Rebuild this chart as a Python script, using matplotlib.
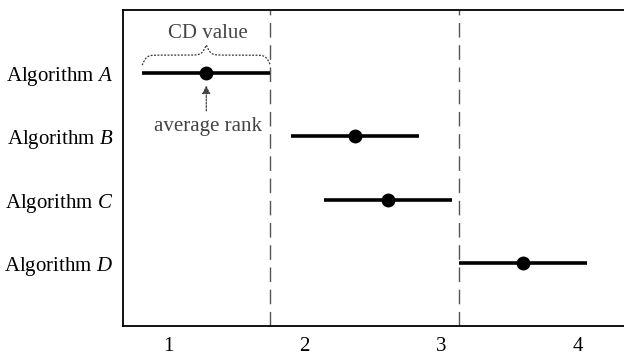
import numpy as np
import matplotlib
matplotlib.use("Agg")
import matplotlib.pyplot as plt

plt.rcParams["font.family"] = ["Liberation Serif", "DejaVu Serif"]
plt.rcParams["mathtext.fontset"] = "custom"
plt.rcParams["mathtext.rm"] = "Liberation Serif"
plt.rcParams["mathtext.it"] = "Liberation Serif:italic"

algorithms = ["Algorithm $A$", "Algorithm $B$", "Algorithm $C$", "Algorithm $D$"]
avg_ranks = [1.28, 2.37, 2.61, 3.60]
cd_value = 0.94
rank_ticks = [1, 2, 3, 4]

half = cd_value / 2
rows = np.arange(1, len(algorithms) + 1)

fig = plt.figure(figsize=(6.24, 3.55), dpi=100)
ax = fig.add_axes([123 / 624, 1 - 326 / 355, 1 - 123 / 624, 316 / 355])

# critical difference boundaries: best algorithm's upper end, worst one's lower end
ax.axvline(avg_ranks[0] + half, color="#555555", lw=1.0, dashes=(10.5, 5.5))
ax.axvline(avg_ranks[-1] - half, color="#555555", lw=1.0, dashes=(10.5, 5.5))

for y, r in zip(rows, avg_ranks):
    ax.plot([r - half, r + half], [y, y], color="black", lw=2.6, solid_capstyle="butt")
    ax.plot(r, y, "o", color="black", ms=9)

# curly brace over the first interval
x0, x1 = avg_ranks[0] - half, avg_ranks[0] + half
xs = np.linspace(x0, x1, 301)
hx = xs[:151]
beta = 60
yh = 1 / (1 + np.exp(-beta * (hx - hx[0]))) + 1 / (1 + np.exp(-beta * (hx - hx[-1])))
yb = np.concatenate([yh, yh[-2::-1]])
ax.plot(xs, 0.873 - (yb - 0.5) * 0.318, color="#333333", lw=0.9, ls=(0, (1.5, 1.2)))
ax.text(avg_ranks[0] + 0.01, 0.37, "CD value", ha="center", va="center",
        fontsize=15, color="#444444")

ax.annotate("", xy=(avg_ranks[0], 1.15), xytext=(avg_ranks[0], 1.64),
            arrowprops=dict(arrowstyle="-|>", color="#444444", lw=0.9,
                            ls=(0, (1.5, 1.2)), mutation_scale=12))
ax.text(avg_ranks[0] + 0.01, 1.84, "average rank", ha="center", va="center",
        fontsize=15, color="#444444")

ax.set_xlim(0.67, 4.34)
ax.set_ylim(5, 0)
ax.set_xticks(rank_ticks)
ax.set_yticks(rows)
ax.set_yticklabels(algorithms)
ax.tick_params(length=0, labelsize=15, colors="black")
ax.tick_params(axis="x", pad=8)
ax.tick_params(axis="y", pad=7)
ax.spines["right"].set_visible(False)
for s in ("left", "top", "bottom"):
    ax.spines[s].set_linewidth(1.3)

fig.savefig("out.png", dpi=100)
